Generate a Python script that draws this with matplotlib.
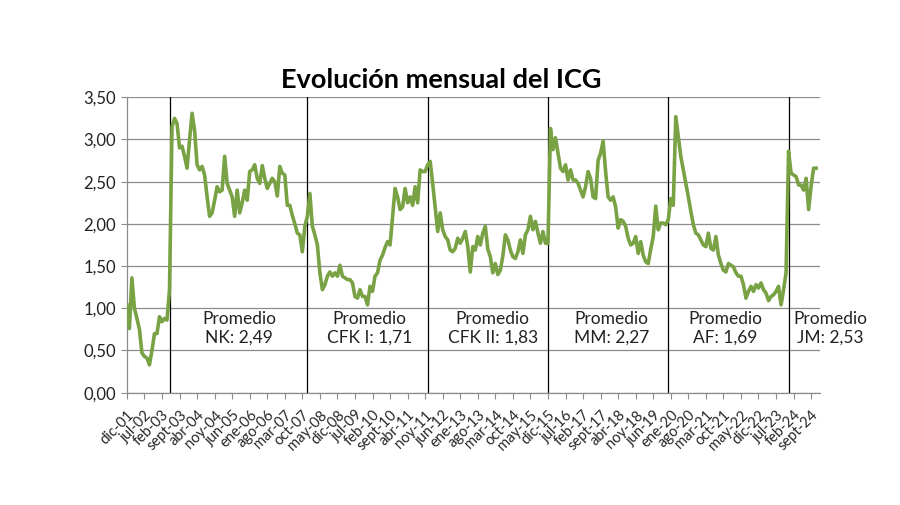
import matplotlib
matplotlib.use('Agg')
import matplotlib.pyplot as plt
from matplotlib.ticker import FuncFormatter

plt.rcParams['font.family'] = ['Lato', 'DejaVu Sans']

# ICG mensual (dic-01 a nov-24), un tramo por gestion
icg_duhalde = [1.04, 0.76, 1.36, 1.0, 0.88, 0.75, 0.47, 0.43, 0.41, 0.33, 0.5, 0.7,
               0.7, 0.9, 0.84, 0.88, 0.86]
icg_nk = [1.22, 3.15, 3.25, 3.19, 2.9, 2.92, 2.8, 2.66, 3.0, 3.31, 3.11, 2.7,
          2.64, 2.68, 2.58, 2.32, 2.09, 2.13, 2.28, 2.44, 2.38, 2.4, 2.8, 2.48,
          2.4, 2.32, 2.09, 2.4, 2.13, 2.25, 2.4, 2.28, 2.62, 2.64, 2.7, 2.54,
          2.48, 2.69, 2.54, 2.42, 2.48, 2.54, 2.5, 2.33, 2.68, 2.6, 2.58, 2.22,
          2.22, 2.1, 2.0, 1.89, 1.87, 1.67, 1.97]
icg_cfk1 = [2.09, 2.36, 1.97, 1.87, 1.75, 1.42, 1.22, 1.28, 1.38, 1.43, 1.38, 1.42,
            1.38, 1.51, 1.38, 1.36, 1.34, 1.34, 1.3, 1.14, 1.12, 1.22, 1.14, 1.14,
            1.04, 1.26, 1.2, 1.38, 1.42, 1.57, 1.63, 1.72, 1.79, 1.75, 2.09, 2.42,
            2.32, 2.17, 2.2, 2.42, 2.25, 2.32, 2.22, 2.44, 2.25, 2.64, 2.62, 2.62]
icg_cfk2 = [2.7, 2.74, 2.48, 2.2, 1.91, 2.13, 1.93, 1.85, 1.81, 1.69, 1.67, 1.71,
            1.83, 1.77, 1.83, 1.91, 1.73, 1.43, 1.73, 1.69, 1.85, 1.75, 1.89, 1.97,
            1.7, 1.61, 1.42, 1.53, 1.4, 1.45, 1.62, 1.87, 1.81, 1.69, 1.61, 1.59,
            1.67, 1.81, 1.65, 1.87, 1.93, 2.09, 1.93, 2.03, 1.89, 1.77, 1.91, 1.77]
icg_mm = [1.77, 3.13, 2.88, 3.02, 2.84, 2.66, 2.62, 2.7, 2.52, 2.64, 2.52, 2.52,
          2.48, 2.4, 2.32, 2.44, 2.62, 2.54, 2.32, 2.3, 2.75, 2.84, 2.98, 2.62,
          2.32, 2.28, 2.32, 2.2, 1.95, 2.05, 2.03, 1.97, 1.83, 1.75, 1.77, 1.85,
          1.65, 1.79, 1.63, 1.55, 1.53, 1.7, 1.85, 2.21, 1.93, 2.01, 2.01, 1.99]
icg_af = [2.05, 2.3, 2.22, 3.27, 3.04, 2.8, 2.64, 2.48, 2.32, 2.15, 1.99, 1.89,
          1.87, 1.81, 1.75, 1.73, 1.89, 1.71, 1.69, 1.85, 1.63, 1.53, 1.45, 1.43,
          1.53, 1.51, 1.49, 1.42, 1.38, 1.38, 1.28, 1.12, 1.2, 1.26, 1.2, 1.28,
          1.24, 1.3, 1.22, 1.18, 1.09, 1.14, 1.16, 1.2, 1.26, 1.04, 1.22, 1.42]
icg_jm = [2.86, 2.6, 2.58, 2.56, 2.46, 2.46, 2.4, 2.54, 2.17, 2.45, 2.66, 2.66]

gestiones = ['NK', 'CFK I', 'CFK II', 'MM', 'AF', 'JM']
promedios = ['2,49', '1,71', '1,83', '2,27', '1,69', '2,53']

tick_labels = ['dic-01', 'jul-02', 'feb-03', 'sept-03', 'abr-04', 'nov-04', 'jun-05',
               'ene-06', 'ago-06', 'mar-07', 'oct-07', 'may-08', 'dic-08', 'jul-09',
               'feb-10', 'sept-10', 'abr-11', 'nov-11', 'jun-12', 'ene-13', 'ago-13',
               'mar-14', 'oct-14', 'may-15', 'dic-15', 'jul-16', 'feb-17', 'sept-17',
               'abr-18', 'nov-18', 'jun-19', 'ene-20', 'ago-20', 'mar-21', 'oct-21',
               'may-22', 'dic-22', 'jul-23', 'feb-24', 'sept-24']

tramos = [icg_duhalde, icg_nk, icg_cfk1, icg_cfk2, icg_mm, icg_af, icg_jm]
icg = [v for t in tramos for v in t]

# inicio de cada gestion (indice del mes)
inicios = []
acum = 0
for t in tramos[:-1]:
    acum += len(t)
    inicios.append(acum)

fig = plt.figure(figsize=(9, 5.05), dpi=100)
ax = fig.add_axes([0.141, 0.2224, 0.77, 0.585])

ax.set_ylim(0, 3.5)
ax.set_xlim(0, len(icg) + 0.5)
ax.set_yticks([i * 0.5 for i in range(8)])
ax.yaxis.set_major_formatter(FuncFormatter(lambda v, p: f'{v:.2f}'.replace('.', ',')))
ax.grid(axis='y', color='#8c8c8c', lw=0.9)
ax.set_axisbelow(True)

for s in ['top', 'right']:
    ax.spines[s].set_visible(False)
for s in ['left', 'bottom']:
    ax.spines[s].set_color('#8c8c8c')
    ax.spines[s].set_linewidth(0.9)

for x in inicios:
    ax.axvline(x, color='black', lw=0.9, zorder=2)

ax.plot(range(len(icg)), icg, color='#78a244', lw=2.6, solid_joinstyle='round', zorder=3)

ax.set_xticks(range(0, 7 * len(tick_labels), 7))
ax.set_xticklabels(tick_labels, rotation=45, ha='right', rotation_mode='anchor',
                   fontsize=10.5, color='#262626')
ax.tick_params(axis='x', length=4, color='#8c8c8c', pad=7)
ax.tick_params(axis='y', length=4, color='#8c8c8c', labelsize=12, labelcolor='#222222', pad=4)

label_x = [44.9, 96.8, 146, 193.5, 238.9, 280.5]
for x, g, p in zip(label_x, gestiones, promedios):
    ax.text(x, 0.76, f'Promedio\n{g}: {p}', ha='center', va='center', fontsize=12.5,
            color='#222222', linespacing=1.2, clip_on=False)

fig.text(0.49, 0.842, 'Evolución mensual del ICG', ha='center', va='center',
         fontsize=19.5, fontweight='bold', color='black')

fig.savefig('out.png', dpi=100, facecolor='white')
